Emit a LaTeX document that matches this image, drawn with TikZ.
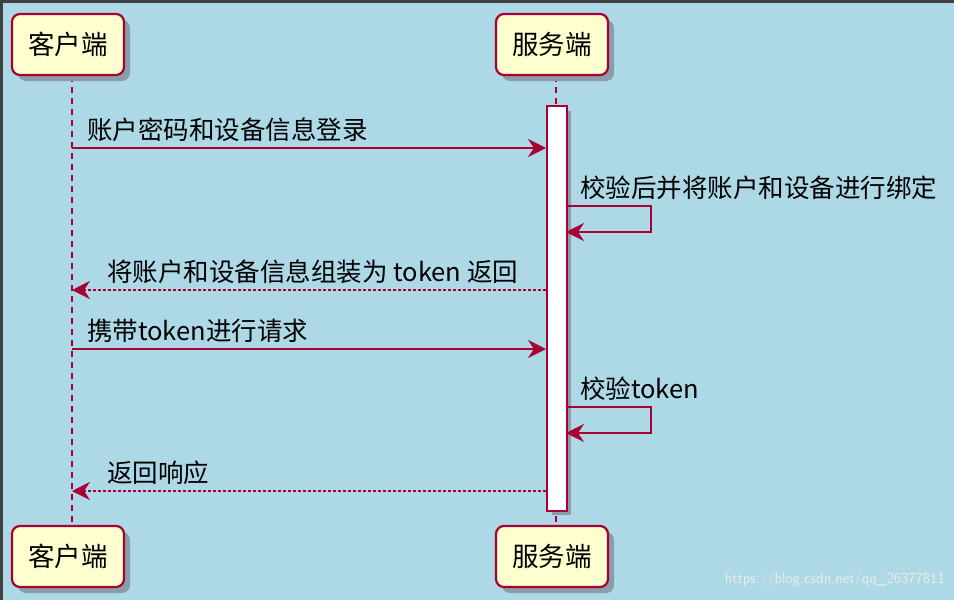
\documentclass[tikz,border=0pt]{standalone}
\usepackage{fontspec}
\setmainfont{Noto Sans CJK SC}
\usetikzlibrary{arrows.meta}
\definecolor{bg}{HTML}{ADD8E6}
\definecolor{pred}{HTML}{A80036}
\definecolor{pyel}{HTML}{FEFECE}
\definecolor{shd}{HTML}{8C9EA5}
\tikzset{x=1pt,y=-1pt,
 part/.style={draw=pred,line width=2.2pt,fill=pyel,rounded corners=8pt,minimum width=112pt,minimum height=61pt,font=\fontsize{26.5}{29}\selectfont,inner sep=0pt},
 shad/.style={fill=shd,rounded corners=8pt},
 msg/.style={draw=pred,line width=1.6pt,-{Stealth[length=18pt,width=18pt,inset=6pt]}},
 ret/.style={msg,dash pattern=on 3pt off 2pt},
 life/.style={draw=pred,line width=1.4pt,dash pattern=on 6pt off 5pt},
 lab/.style={anchor=west,font=\fontsize{25.5}{28}\selectfont,inner sep=0pt}}
\begin{document}
\begin{tikzpicture}
\useasboundingbox (0,0) rectangle (954,600);
\fill[bg] (0,0) rectangle (954,600);
\fill[black!75] (0,0) rectangle (954,3);
\fill[black!75] (0,0) rectangle (3,600);
% lifelines
\coordinate (ct) at (72,76); \coordinate (cb) at (72,526);
\coordinate (st) at (556,76); \coordinate (sb) at (556,526);
\draw[life] (ct) -- (cb);
\draw[life] (st) -- (sb);
% shadows
\foreach \x/\y in {12/14,496/14,12/526,496/526}
  \fill[shad] (\x+6,\y+6) rectangle (\x+118,\y+67);
\fill[shd] (552,111) rectangle (571,515);
% activation
\node[draw=pred,line width=1.5pt,fill=white,minimum width=20pt,minimum height=405pt,inner sep=0pt,anchor=north west] (act) at (546,105) {};
% participants
\node[part] (c1) at (68,44.5) {客户端};
\node[part] (s1) at (552,44.5) {服务端};
\node[part] (c2) at (68,556.5) {客户端};
\node[part] (s2) at (552,556.5) {服务端};
% coordinates
\coordinate (a1) at (72,148); \coordinate (b1) at (546,148);
\coordinate (a2) at (566,206); \coordinate (b2) at (566,232);
\coordinate (a3) at (546,290); \coordinate (b3) at (72,290);
\coordinate (a4) at (72,349); \coordinate (b4) at (546,349);
\coordinate (a5) at (566,407); \coordinate (b5) at (566,433);
\coordinate (a6) at (546,491); \coordinate (b6) at (72,491);
\draw[msg] (a1) -- (b1);
\draw[msg] (a2) -- ++(85,0) |- (b2);
\draw[ret] (a3) -- (b3);
\draw[msg] (a4) -- (b4);
\draw[msg] (a5) -- ++(85,0) |- (b5);
\draw[ret] (a6) -- (b6);
\node[lab] (l1) at (87,130) {账户密码和设备信息登录};
\node[lab] (l2) at (580,188) {校验后并将账户和设备进行绑定};
\node[lab] (l3) at (107,272) {将账户和设备信息组装为 token 返回};
\node[lab] (l4) at (87,331) {携带token进行请求};
\node[lab] (l5) at (580,389) {校验token};
\node[lab] (l6) at (107,473) {返回响应};
\node[anchor=east,text=white!85!gray,font=\fontsize{15.5}{17}\selectfont\sffamily,inner sep=0pt] (wm) at (945,580) {https://blog.csdn.net/qq\_26377811};
\end{tikzpicture}
\end{document}
